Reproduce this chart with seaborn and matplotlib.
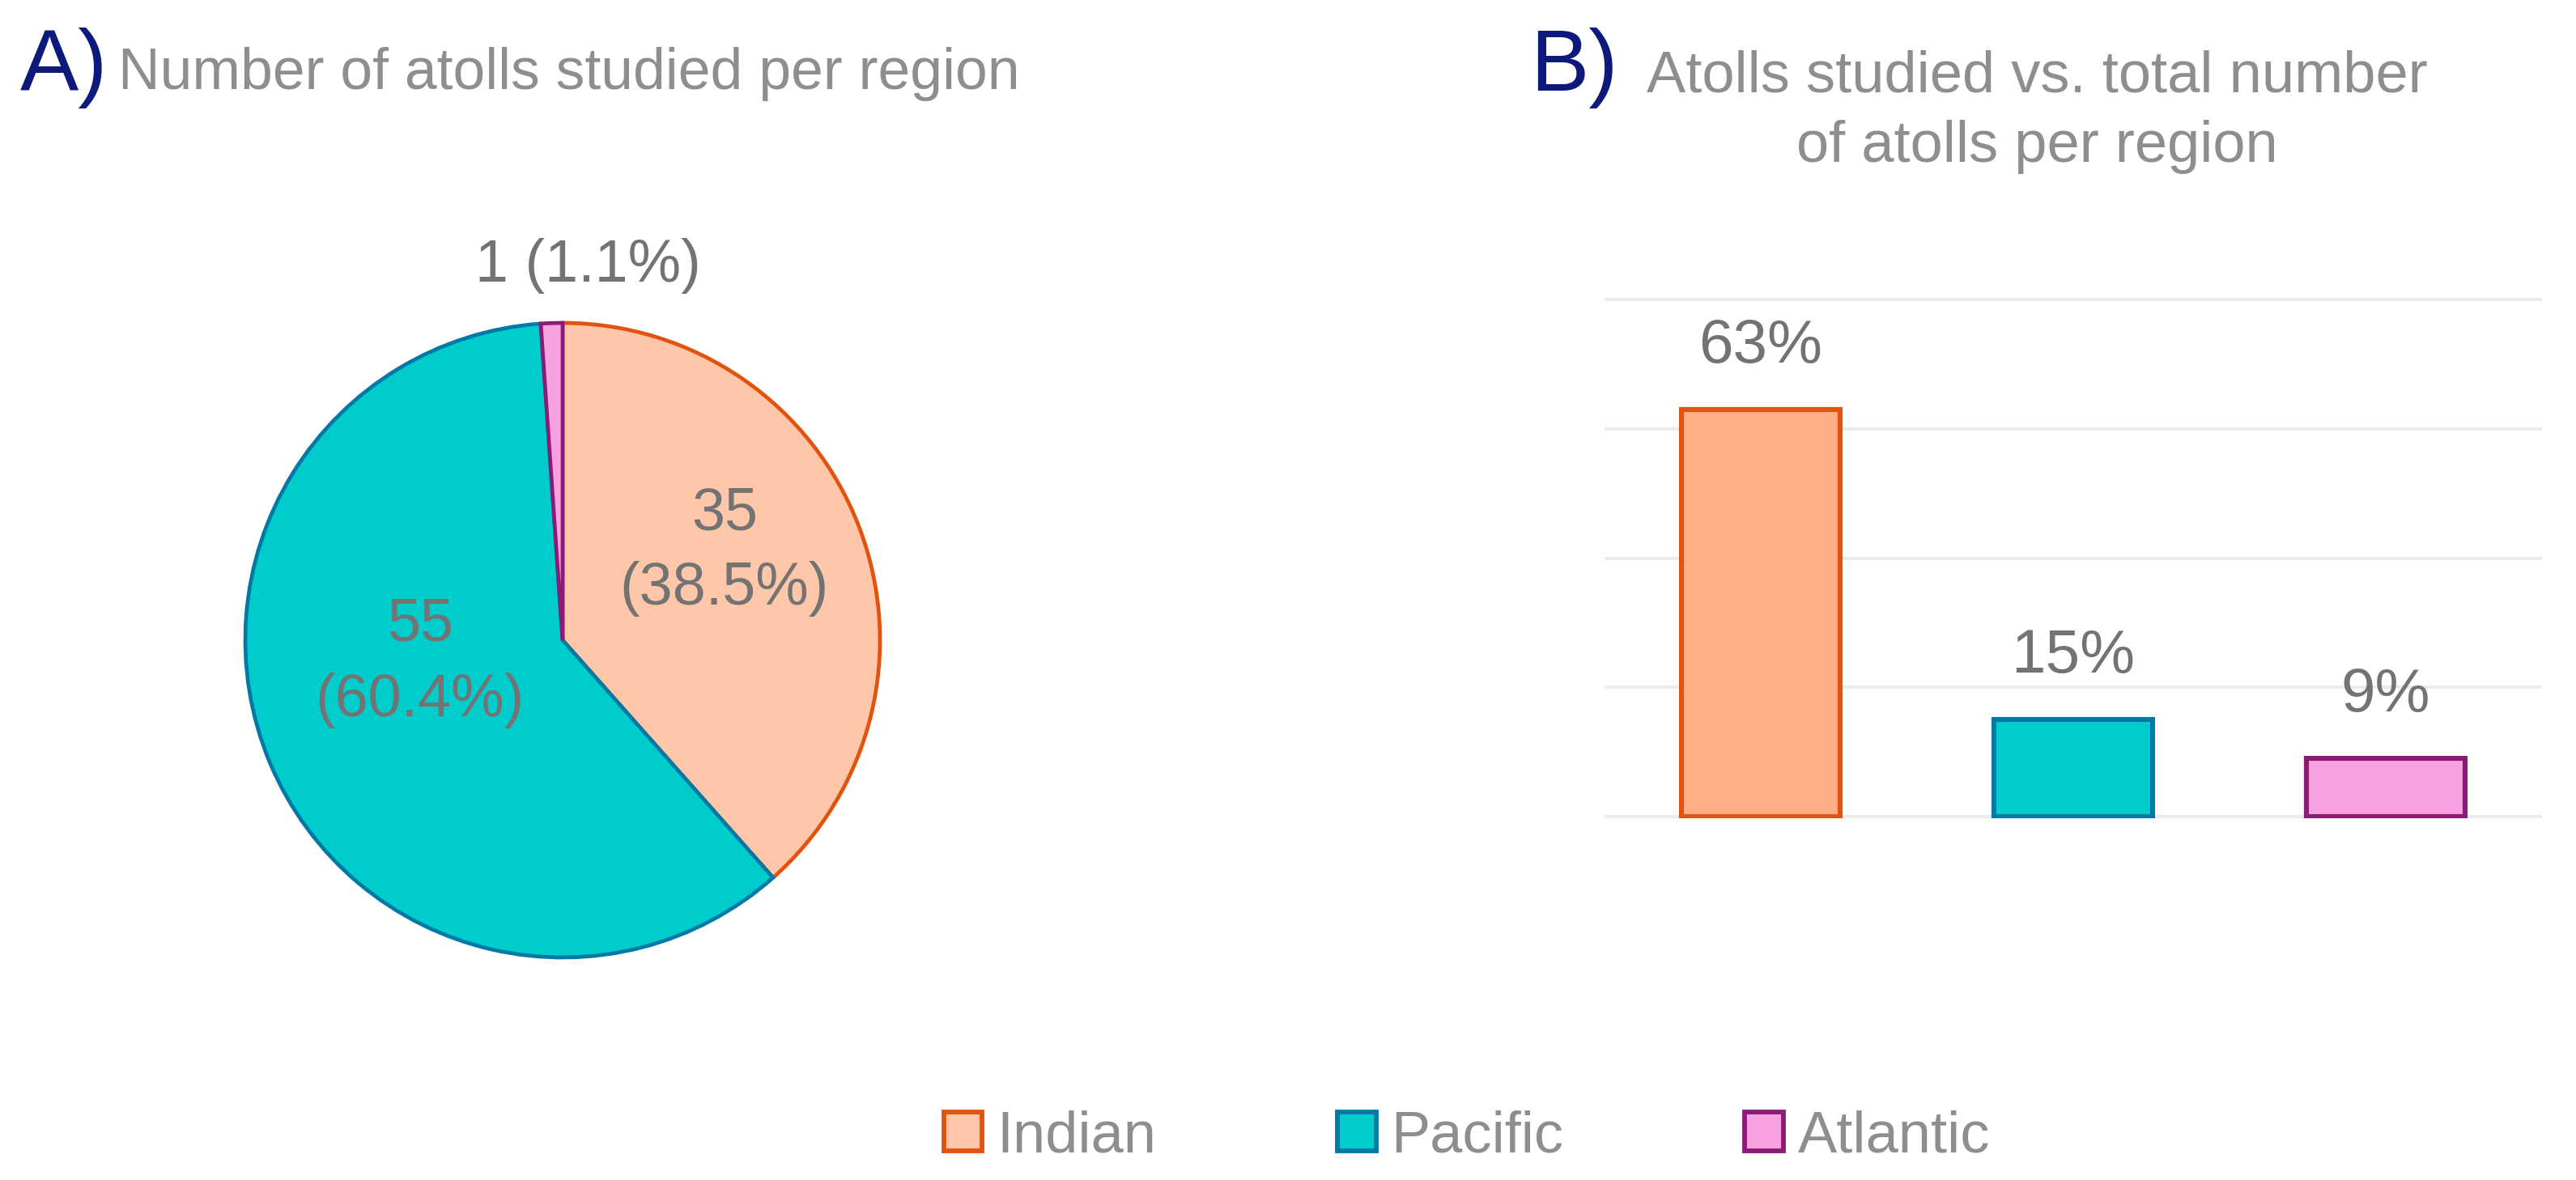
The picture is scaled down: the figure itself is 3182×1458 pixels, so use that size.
import numpy as np
import pandas as pd
import matplotlib
matplotlib.use("Agg")
import matplotlib.pyplot as plt
from matplotlib.patches import Patch
import seaborn as sns

# Data
regions = ["Indian", "Pacific", "Atlantic"]
atoll_counts = [35, 55, 1]
studied_share = [63, 15, 9]  # % of all atolls in the region that were studied

# Colours
pie_fill = ["#FFC7A9", "#00CCCC", "#F7A1E0"]
bar_fill = ["#FFAD85", "#00CCCC", "#F7A1E0"]
edge_cols = ["#E2530F", "#0079A6", "#8C1B78"]
navy = "#0D1A7C"
title_grey = "#8E8E8E"
label_grey = "#737373"

sns.set_theme(style="white")
plt.rcParams["font.family"] = ["Liberation Sans", "DejaVu Sans"]

fig = plt.figure(figsize=(31.82, 14.58), dpi=100)
W, H = 3182, 1458

# ---------------- A) pie ----------------
cx, cy, r = 695, 791, 392
ax1 = fig.add_axes([(cx - r) / W, (H - cy - r) / H, 2 * r / W, 2 * r / H])
wedges, _ = ax1.pie(atoll_counts, colors=pie_fill, startangle=90, counterclock=False,
                    wedgeprops=dict(linewidth=3.4))
for w, ec in zip(wedges, edge_cols):
    w.set_edgecolor(ec)
ax1.set_xlim(-1, 1)
ax1.set_ylim(-1, 1)
ax1.set_aspect("equal")
ax1.axis("off")

total = sum(atoll_counts)
label_pos = [(0.51, 0.28), (-0.45, -0.07), (0.08, 1.18)]
for i, (n, (lx, ly)) in enumerate(zip(atoll_counts, label_pos)):
    pct = n / total * 100
    txt = f"{n} ({pct:.1f}%)" if i == 2 else f"{n}\n({pct:.1f}%)"
    ax1.text(lx, ly, txt, ha="center", va="center", fontsize=53,
             color=label_grey, linespacing=1.45, multialignment="center")

fig.text(25 / W, 1 - 112 / H, "A)", fontsize=78, color=navy, va="baseline", ha="left")
fig.text(146 / W, 1 - 110 / H, "Number of atolls studied per region", fontsize=51.5,
         color=title_grey, va="baseline", ha="left")

# ---------------- B) bars ----------------
ax2 = fig.add_axes([1982 / W, (H - 1011) / H, 1158 / W, 643 / H])
df = pd.DataFrame({"region": regions, "share": studied_share})
sns.barplot(data=df, x="region", y="share", hue="region", palette=bar_fill,
            legend=False, width=0.51, linewidth=4.4, saturation=1, ax=ax2)
for p, ec in zip(ax2.patches, edge_cols):
    p.set_edgecolor(ec)
    p.set_joinstyle("miter")
for cont in ax2.containers:
    ax2.bar_label(cont, fmt="%g%%", padding=30, fontsize=55, color=label_grey)

ax2.set_xlim(-0.5, 2.5)
ax2.set_ylim(-0.3, 80.3)
ax2.set_yticks([0, 20, 40, 60, 80])
ax2.yaxis.grid(True, color="#ECECEC", linewidth=3)
ax2.set_axisbelow(True)
ax2.tick_params(left=False, bottom=False, labelleft=False, labelbottom=False)
ax2.set_xlabel("")
ax2.set_ylabel("")
sns.despine(ax=ax2, left=True, bottom=True)

fig.text(1890 / W, 1 - 112 / H, "B)", fontsize=78, color=navy, va="baseline", ha="left")
fig.text(2516 / W, 1 - 113 / H, "Atolls studied vs. total number", fontsize=52,
         color=title_grey, va="baseline", ha="center")
fig.text(2516 / W, 1 - 200 / H, "of atolls per region", fontsize=52,
         color=title_grey, va="baseline", ha="center")

# ---------------- legend ----------------
handles = [Patch(facecolor=fc, edgecolor=ec, linewidth=4.2)
           for fc, ec in zip(pie_fill, edge_cols)]
fig.legend(handles, regions, loc="center", bbox_to_anchor=(1812 / W, 1 - 1405 / H),
           ncol=3, frameon=False, fontsize=52, labelcolor="#8E8E8E",
           handlelength=0.66, handleheight=0.66, handletextpad=0.25, columnspacing=3.1)

fig.savefig("out.png", dpi=100, facecolor="white")
